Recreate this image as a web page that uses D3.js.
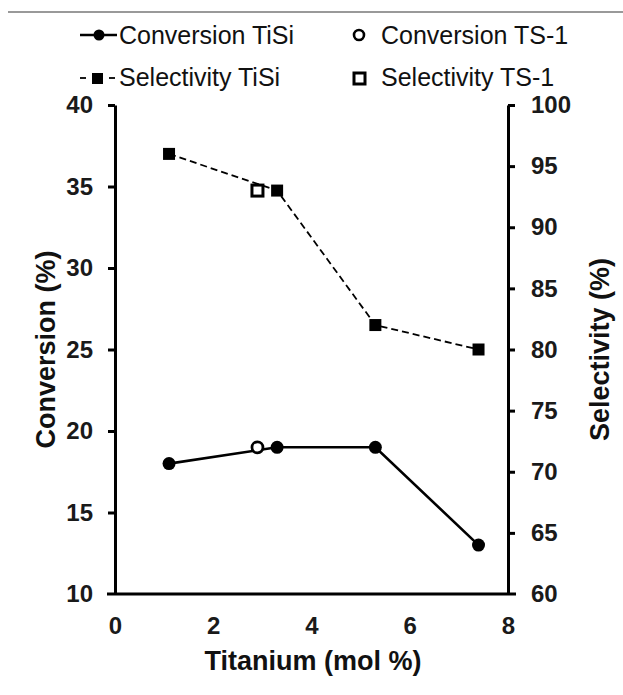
<!DOCTYPE html>
<html>
<head>
<meta charset="utf-8">
<script src="https://cdn.jsdelivr.net/npm/d3@7"></script>
<style>
  html, body { margin: 0; padding: 0; background: #fff; }
  svg { display: block; font-family: "Liberation Sans", Arial, sans-serif; }
</style>
</head>
<body>
<svg id="chart" width="623" height="695"></svg>
<script>
// Titanium loading (mol %) and catalytic results
const tisiTi = [1.1, 3.3, 5.3, 7.4];
const tisiConversion = [18, 19, 19, 13];
const tisiSelectivity = [96, 93, 82, 80];
const ts1Ti = [2.9];
const ts1Conversion = [19];
const ts1Selectivity = [93];

const xTicks = [0, 2, 4, 6, 8];
const convTicks = [10, 15, 20, 25, 30, 35, 40];
const selTicks = [60, 65, 70, 75, 80, 85, 90, 95, 100];

const svg = d3.select("#chart");
const plot = { left: 115, right: 508, top: 105, bottom: 594 };

const x = d3.scaleLinear().domain([0, 8]).range([plot.left, plot.right]);
const yConv = d3.scaleLinear().domain([10, 40]).range([plot.bottom, plot.top]);
const ySel = d3.scaleLinear().domain([60, 100]).range([plot.bottom, plot.top]);

// thin rule across the top
svg.append("line").attr("x1", 8).attr("x2", 623).attr("y1", 12).attr("y2", 12)
  .attr("stroke", "#777").attr("stroke-width", 1.5);

// axes
function styleAxis(g) {
  g.selectAll(".domain").attr("stroke", "#000").attr("stroke-width", 3);
  g.selectAll(".tick line").attr("stroke", "#000").attr("stroke-width", 3);
  g.selectAll(".tick text").attr("fill", "#1a1a1a").attr("font-size", 24).attr("font-weight", "bold")
    .attr("font-family", "'Liberation Sans', Arial, sans-serif");
}

const gx = svg.append("g").attr("transform", `translate(0,${plot.bottom})`)
  .call(d3.axisBottom(x).tickValues(xTicks).tickSize(0).tickPadding(23).tickSizeOuter(0));
styleAxis(gx);
gx.select(".domain").attr("d", `M${plot.left - 8},0H${plot.right + 8}`);

const gl = svg.append("g").attr("transform", `translate(${plot.left},0)`)
  .call(d3.axisLeft(yConv).tickValues(convTicks).tickSize(7).tickPadding(15).tickSizeOuter(0));
styleAxis(gl);
gl.selectAll(".tick").filter(d => d === 10).select("line").remove();

const gr = svg.append("g").attr("transform", `translate(${plot.right},0)`)
  .call(d3.axisRight(ySel).tickValues(selTicks).tickSize(7).tickPadding(16).tickSizeOuter(0));
styleAxis(gr);
gr.selectAll(".tick").filter(d => d === 60).select("line").remove();

// axis titles
svg.append("text").attr("transform", `translate(55,${(plot.top + plot.bottom) / 2}) rotate(-90)`)
  .attr("text-anchor", "middle").attr("font-size", 27).attr("font-weight", "bold").attr("fill", "#111")
  .text("Conversion (%)");
svg.append("text").attr("transform", `translate(609,${(plot.top + plot.bottom) / 2}) rotate(-90)`)
  .attr("text-anchor", "middle").attr("font-size", 27).attr("font-weight", "bold").attr("fill", "#111")
  .text("Selectivity (%)");
svg.append("text").attr("x", 313).attr("y", 670)
  .attr("text-anchor", "middle").attr("font-size", 27).attr("font-weight", "bold").attr("fill", "#111")
  .text("Titanium (mol %)");

// selectivity series (dashed)
const selPts = tisiTi.map((t, i) => [t, tisiSelectivity[i]]);
svg.append("path").datum(selPts)
  .attr("d", d3.line().x(d => x(d[0])).y(d => ySel(d[1])))
  .attr("fill", "none").attr("stroke", "#000").attr("stroke-width", 1.8).attr("stroke-dasharray", "7,4");
svg.selectAll(".selSq").data(selPts).enter().append("rect")
  .attr("x", d => x(d[0]) - 6).attr("y", d => ySel(d[1]) - 6)
  .attr("width", 12).attr("height", 12).attr("fill", "#000");
svg.selectAll(".ts1Sq").data(ts1Ti.map((t, i) => [t, ts1Selectivity[i]])).enter().append("rect")
  .attr("x", d => x(d[0]) - 5.5).attr("y", d => ySel(d[1]) - 5.5)
  .attr("width", 11).attr("height", 11).attr("fill", "#fff").attr("stroke", "#000").attr("stroke-width", 3);

// conversion series (solid)
const convPts = tisiTi.map((t, i) => [t, tisiConversion[i]]);
svg.append("path").datum(convPts)
  .attr("d", d3.line().x(d => x(d[0])).y(d => yConv(d[1])))
  .attr("fill", "none").attr("stroke", "#000").attr("stroke-width", 2.6);
svg.selectAll(".convPt").data(convPts).enter().append("circle")
  .attr("cx", d => x(d[0])).attr("cy", d => yConv(d[1])).attr("r", 6.5).attr("fill", "#000");
svg.selectAll(".ts1Pt").data(ts1Ti.map((t, i) => [t, ts1Conversion[i]])).enter().append("circle")
  .attr("cx", d => x(d[0])).attr("cy", d => yConv(d[1])).attr("r", 5.5)
  .attr("fill", "#fff").attr("stroke", "#000").attr("stroke-width", 2.8);

// legend
const leg = svg.append("g");
const legFont = 25;
// row 1
leg.append("line").attr("x1", 80).attr("x2", 117).attr("y1", 35).attr("y2", 35).attr("stroke", "#000").attr("stroke-width", 2.6);
leg.append("circle").attr("cx", 99).attr("cy", 35).attr("r", 5.5).attr("fill", "#000");
leg.append("text").attr("x", 119).attr("y", 44).attr("font-size", legFont).attr("fill", "#111").text("Conversion TiSi");
leg.append("circle").attr("cx", 359).attr("cy", 35).attr("r", 5).attr("fill", "#fff").attr("stroke", "#000").attr("stroke-width", 2.6);
leg.append("text").attr("x", 381).attr("y", 44).attr("font-size", legFont).attr("fill", "#111").text("Conversion TS-1");
// row 2
leg.append("line").attr("x1", 80).attr("x2", 86).attr("y1", 78).attr("y2", 78).attr("stroke", "#000").attr("stroke-width", 1.8);
leg.append("line").attr("x1", 109).attr("x2", 115).attr("y1", 78).attr("y2", 78).attr("stroke", "#000").attr("stroke-width", 1.8);
leg.append("rect").attr("x", 92).attr("y", 73).attr("width", 11).attr("height", 11).attr("fill", "#000");
leg.append("text").attr("x", 119).attr("y", 86).attr("font-size", legFont).attr("fill", "#111").text("Selectivity TiSi");
leg.append("rect").attr("x", 354).attr("y", 73).attr("width", 11).attr("height", 11).attr("fill", "#fff").attr("stroke", "#000").attr("stroke-width", 3);
leg.append("text").attr("x", 381).attr("y", 86).attr("font-size", legFont).attr("fill", "#111").text("Selectivity TS-1");
</script>
</body>
</html>
